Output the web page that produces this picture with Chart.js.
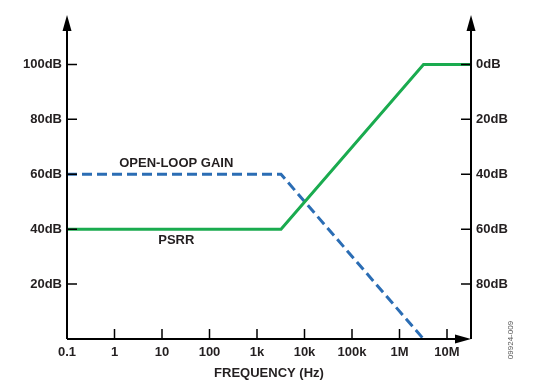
<!DOCTYPE html>
<html>
<head>
<meta charset="utf-8">
<script src="https://cdn.jsdelivr.net/npm/chart.js@4"></script>
<style>
  html, body { margin: 0; padding: 0; background: #fff; }
  #wrap { width: 536px; height: 391px; position: relative; }
</style>
</head>
<body>
<div id="wrap"><canvas id="chart"></canvas></div>
<script>
// Frequency axis (Hz) and its labels
const freqTicks = [0.1, 1, 10, 100, 1e3, 1e4, 1e5, 1e6, 1e7];
const freqLabels = ['0.1', '1', '10', '100', '1k', '10k', '100k', '1M', '10M'];

// Left axis (open-loop gain) and right axis (PSRR, inverted)
const leftTicks = [20, 40, 60, 80, 100];
const rightTicks = [0, 20, 40, 60, 80];

// PSRR curve (plotted against left dB scale)
const psrrFreq = [0.1, 3200, 3.2e6, 3.2e7];
const psrrDb = [40, 40, 100, 100];

// Open-loop gain curve
const gainFreq = [0.1, 3200, 3.2e6];
const gainDb = [60, 60, 0];

const textColor = '#231f20';
const font = 'Liberation Sans, Arial, sans-serif';

function toPoints(xs, ys) {
    return xs.map((x, i) => ({ x: x, y: ys[i] }));
}

// axis lines, arrows, inward tick marks and text labels
const axesPlugin = {
    id: 'axesPlugin',
    afterDatasetsDraw(chart) {
        const ctx = chart.ctx;
        const area = chart.chartArea;
        const xs = chart.scales.x;
        const yl = chart.scales.y;
        const yr = chart.scales.y2;
        ctx.save();
        ctx.strokeStyle = '#000';
        ctx.fillStyle = '#000';
        ctx.lineWidth = 2;

        ctx.beginPath();
        ctx.moveTo(area.left, area.bottom);
        ctx.lineTo(area.left, area.top + 8);
        ctx.moveTo(area.right, area.bottom);
        ctx.lineTo(area.right, area.top + 8);
        ctx.moveTo(area.left, area.bottom);
        ctx.lineTo(area.right - 8, area.bottom);
        ctx.stroke();

        // arrow heads
        [area.left, area.right].forEach(x => {
            ctx.beginPath();
            ctx.moveTo(x, area.top);
            ctx.lineTo(x - 4.5, area.top + 16);
            ctx.lineTo(x + 4.5, area.top + 16);
            ctx.closePath();
            ctx.fill();
        });
        ctx.beginPath();
        ctx.moveTo(area.right, area.bottom);
        ctx.lineTo(area.right - 16, area.bottom - 4.5);
        ctx.lineTo(area.right - 16, area.bottom + 4.5);
        ctx.closePath();
        ctx.fill();

        // inward ticks
        ctx.lineWidth = 1.5;
        ctx.beginPath();
        freqTicks.slice(1).forEach(f => {
            const px = xs.getPixelForValue(f);
            ctx.moveTo(px, area.bottom);
            ctx.lineTo(px, area.bottom - 10);
        });
        leftTicks.forEach(v => {
            const py = yl.getPixelForValue(v);
            ctx.moveTo(area.left, py);
            ctx.lineTo(area.left + 10, py);
        });
        rightTicks.forEach(v => {
            const py = yr.getPixelForValue(v);
            ctx.moveTo(area.right, py);
            ctx.lineTo(area.right - 10, py);
        });
        ctx.stroke();

        // curve labels
        ctx.fillStyle = textColor;
        ctx.font = 'bold 13px ' + font;
        ctx.textAlign = 'center';
        ctx.textBaseline = 'middle';
        ctx.fillText('OPEN-LOOP GAIN', xs.getPixelForValue(20), yl.getPixelForValue(64));
        ctx.fillText('PSRR', xs.getPixelForValue(20), yl.getPixelForValue(36));

        // figure id
        ctx.fillStyle = '#555';
        ctx.font = '8px ' + font;
        ctx.translate(511, 340);
        ctx.rotate(-Math.PI / 2);
        ctx.fillText('09924-009', 0, 0);
        ctx.restore();
    }
};

const tickFont = { family: font, size: 13, weight: 'bold' };

new Chart(document.getElementById('chart'), {
    type: 'line',
    data: {
        datasets: [
            {
                label: 'PSRR',
                data: toPoints(psrrFreq, psrrDb),
                borderColor: '#1aab4f',
                borderWidth: 3,
                pointRadius: 0,
                tension: 0,
                yAxisID: 'y'
            },
            {
                label: 'OPEN-LOOP GAIN',
                data: toPoints(gainFreq, gainDb),
                borderColor: '#2b6db4',
                borderWidth: 3,
                borderDash: [10, 5],
                pointRadius: 0,
                tension: 0,
                yAxisID: 'y'
            }
        ]
    },
    options: {
        responsive: true,
        maintainAspectRatio: false,
        animation: false,
        layout: { padding: { top: 15, left: 0, right: 0, bottom: 0 } },
        plugins: {
            legend: { display: false },
            tooltip: { enabled: false }
        },
        scales: {
            x: {
                type: 'logarithmic',
                min: 0.1,
                max: 3.2e7,
                afterBuildTicks: s => { s.ticks = freqTicks.map(v => ({ value: v })); },
                afterFit: s => { s.height = 52; },
                grid: { display: false, drawTicks: false },
                border: { display: false },
                ticks: {
                    autoSkip: false,
                    maxRotation: 0,
                    padding: 6,
                    color: textColor,
                    font: tickFont,
                    callback: (v, i) => freqLabels[i]
                },
                title: {
                    display: true,
                    text: 'FREQUENCY (Hz)',
                    color: textColor,
                    font: tickFont,
                    padding: { top: 0, bottom: 10 }
                }
            },
            y: {
                position: 'left',
                min: 0,
                max: 118,
                afterBuildTicks: s => { s.ticks = leftTicks.map(v => ({ value: v })); },
                afterFit: s => { s.width = 67; },
                grid: { display: false, drawTicks: false },
                border: { display: false },
                ticks: {
                    padding: 5,
                    color: textColor,
                    font: tickFont,
                    callback: v => v + 'dB'
                }
            },
            y2: {
                position: 'right',
                reverse: true,
                min: -18,
                max: 100,
                afterBuildTicks: s => { s.ticks = rightTicks.map(v => ({ value: v })); },
                afterFit: s => { s.width = 65; },
                grid: { display: false, drawTicks: false },
                border: { display: false },
                ticks: {
                    padding: 5,
                    color: textColor,
                    font: tickFont,
                    callback: v => v + 'dB'
                }
            }
        }
    },
    plugins: [axesPlugin]
});
</script>
</body>
</html>
